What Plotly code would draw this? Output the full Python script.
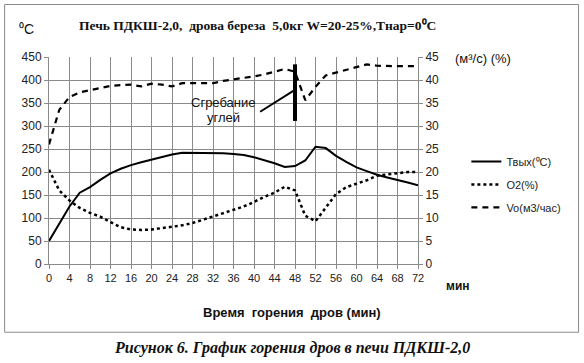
import plotly.graph_objects as go

minutes = list(range(0, 73, 2))
t_out = [50, 88, 125, 155, 167, 183, 197, 207, 215, 221, 227, 233, 238, 242, 242, 242, 242,
         241, 239, 237, 232, 226, 219, 211, 213, 225, 255, 252, 235, 222, 210, 202, 194, 188,
         183, 177, 171]
o2 = [20.5, 16.0, 13.8, 12.2, 11.1, 10.3, 9.1, 8.0, 7.5, 7.4, 7.5, 7.8, 8.0, 8.4, 8.9, 9.6,
      10.4, 11.1, 11.7, 12.5, 13.5, 14.6, 15.5, 16.8, 16.0, 10.5, 9.3, 12.3, 15.2, 16.7, 17.5,
      18.2, 19.2, 19.5, 19.8, 20.0, 20.0]
vo = [26.0, 33.5, 36.3, 37.3, 37.8, 38.3, 38.7, 38.9, 39.0, 38.6, 39.2, 39.0, 38.6, 39.3, 39.3,
      39.3, 39.3, 39.8, 40.1, 40.4, 40.8, 41.2, 41.8, 42.4, 41.8, 35.6, 38.5, 41.0, 41.6, 42.2,
      42.8, 43.4, 43.1, 43.0, 43.0, 43.0, 43.0]

x_ticks = list(range(0, 73, 4))
y_ticks = list(range(0, 451, 50))
y2_ticks = list(range(0, 46, 5))

W, H = 584, 363
L, R, T, B = 49.3, 417.7, 56.7, 264.5


def px(x):
    return (x - L) / (R - L)


def py(y):
    return (B - y) / (B - T)


fig = go.Figure()
fig.add_trace(go.Scatter(x=minutes, y=t_out, name="Твых(⁰С)", mode="lines", legendgroup="a",
                         line=dict(color="black", width=2)))
fig.add_trace(go.Scatter(x=minutes, y=o2, name="O2(%)", mode="lines", yaxis="y2", legendgroup="b",
                         line=dict(color="black", width=2.5, dash="dot")))
fig.add_trace(go.Scatter(x=minutes, y=vo, name="Vo(м3/час)", mode="lines", yaxis="y2", legendgroup="c",
                         line=dict(color="black", width=2.2, dash="6px,5px")))

tickfont = dict(family="Liberation Sans, Arial", size=12, color="#222")
fig.update_layout(
    width=W, height=H,
    margin=dict(l=L, r=W - R, t=T, b=H - B, pad=0),
    paper_bgcolor="white", plot_bgcolor="white",
    showlegend=True,
    legend=dict(x=px(466), y=py(147), xanchor="left", yanchor="top",
                font=dict(family="Liberation Sans, Arial", size=11, color="#222"),
                bgcolor="rgba(0,0,0,0)", itemwidth=30, tracegroupgap=4),
    xaxis=dict(range=[0, 72], tickvals=x_ticks, showgrid=True, gridcolor="#8a8a8a",
               gridwidth=1, zeroline=False, showline=True, linecolor="#8a8a8a",
               ticks="outside", ticklen=4, tickcolor="#8a8a8a",
               tickfont=dict(family="Liberation Sans, Arial", size=11, color="#222")),
    yaxis=dict(range=[0, 450], tickvals=y_ticks, showgrid=True, gridcolor="#8a8a8a",
               gridwidth=1, zeroline=False, showline=True, linecolor="#8a8a8a",
               ticks="outside", ticklen=4, tickcolor="#8a8a8a", tickfont=tickfont),
    yaxis2=dict(range=[0, 45], tickvals=y2_ticks, overlaying="y", side="right",
                showgrid=False, zeroline=False, showline=True, linecolor="#8a8a8a",
                ticks="outside", ticklen=4, tickcolor="#8a8a8a", tickfont=tickfont),
)

shapes = [
    dict(type="rect", xref="paper", yref="paper", x0=px(5), x1=px(578), y0=py(333), y1=py(4),
         line=dict(color="#8a8a8a", width=1), layer="below"),
    dict(type="line", xref="x", yref="y", x0=41.2, y0=331, x1=47.9, y1=378,
         line=dict(color="black", width=2)),
    dict(type="line", xref="x", yref="y", x0=48.0, y0=311, x1=48.0, y1=434,
         line=dict(color="black", width=4)),
]
fig.update_layout(shapes=shapes)

ann = [
    dict(text="<b>Печь ПДКШ-2,0,  дрова береза  5,0кг W=20-25%,Tнар=0⁰С</b>", x=px(257), y=py(25),
         font=dict(family="Liberation Serif, Times New Roman", size=13.5, color="#111"),
         xanchor="center", yanchor="middle"),
    dict(text="⁰С", x=px(27), y=py(29),
         font=dict(family="Liberation Sans, Arial", size=14, color="#111"),
         xanchor="center", yanchor="middle"),
    dict(text="(м³/с) (%)", x=px(483), y=py(58),
         font=dict(family="Liberation Sans, Arial", size=13, color="#111"),
         xanchor="center", yanchor="middle"),
    dict(text="Сгребание", x=34.0, y=351, xref="x", yref="y",
         font=dict(family="Liberation Sans, Arial", size=13, color="#111"),
         xanchor="center", yanchor="middle"),
    dict(text="углей", x=34.0, y=318, xref="x", yref="y",
         font=dict(family="Liberation Sans, Arial", size=13, color="#111"),
         xanchor="center", yanchor="middle"),
    dict(text="<b>мин</b>", x=px(458), y=py(287),
         font=dict(family="Liberation Sans, Arial", size=12, color="#111"),
         xanchor="center", yanchor="middle"),
    dict(text="<b>Время  горения  дров (мин)</b>", x=px(292), y=py(313),
         font=dict(family="Liberation Sans, Arial", size=13, color="#111"),
         xanchor="center", yanchor="middle"),
    dict(text="<b><i>Рисунок 6. График горения дров в печи ПДКШ-2,0</i></b>", x=px(292), y=py(349),
         font=dict(family="Liberation Serif, Times New Roman", size=16, color="#111"),
         xanchor="center", yanchor="middle"),
]
for a in ann:
    a.setdefault("xref", "paper")
    a.setdefault("yref", "paper")
    a["showarrow"] = False
fig.update_layout(annotations=ann)

fig.write_html("out.html", config={"displayModeBar": False},
               post_script="document.body.style.margin='0';")
